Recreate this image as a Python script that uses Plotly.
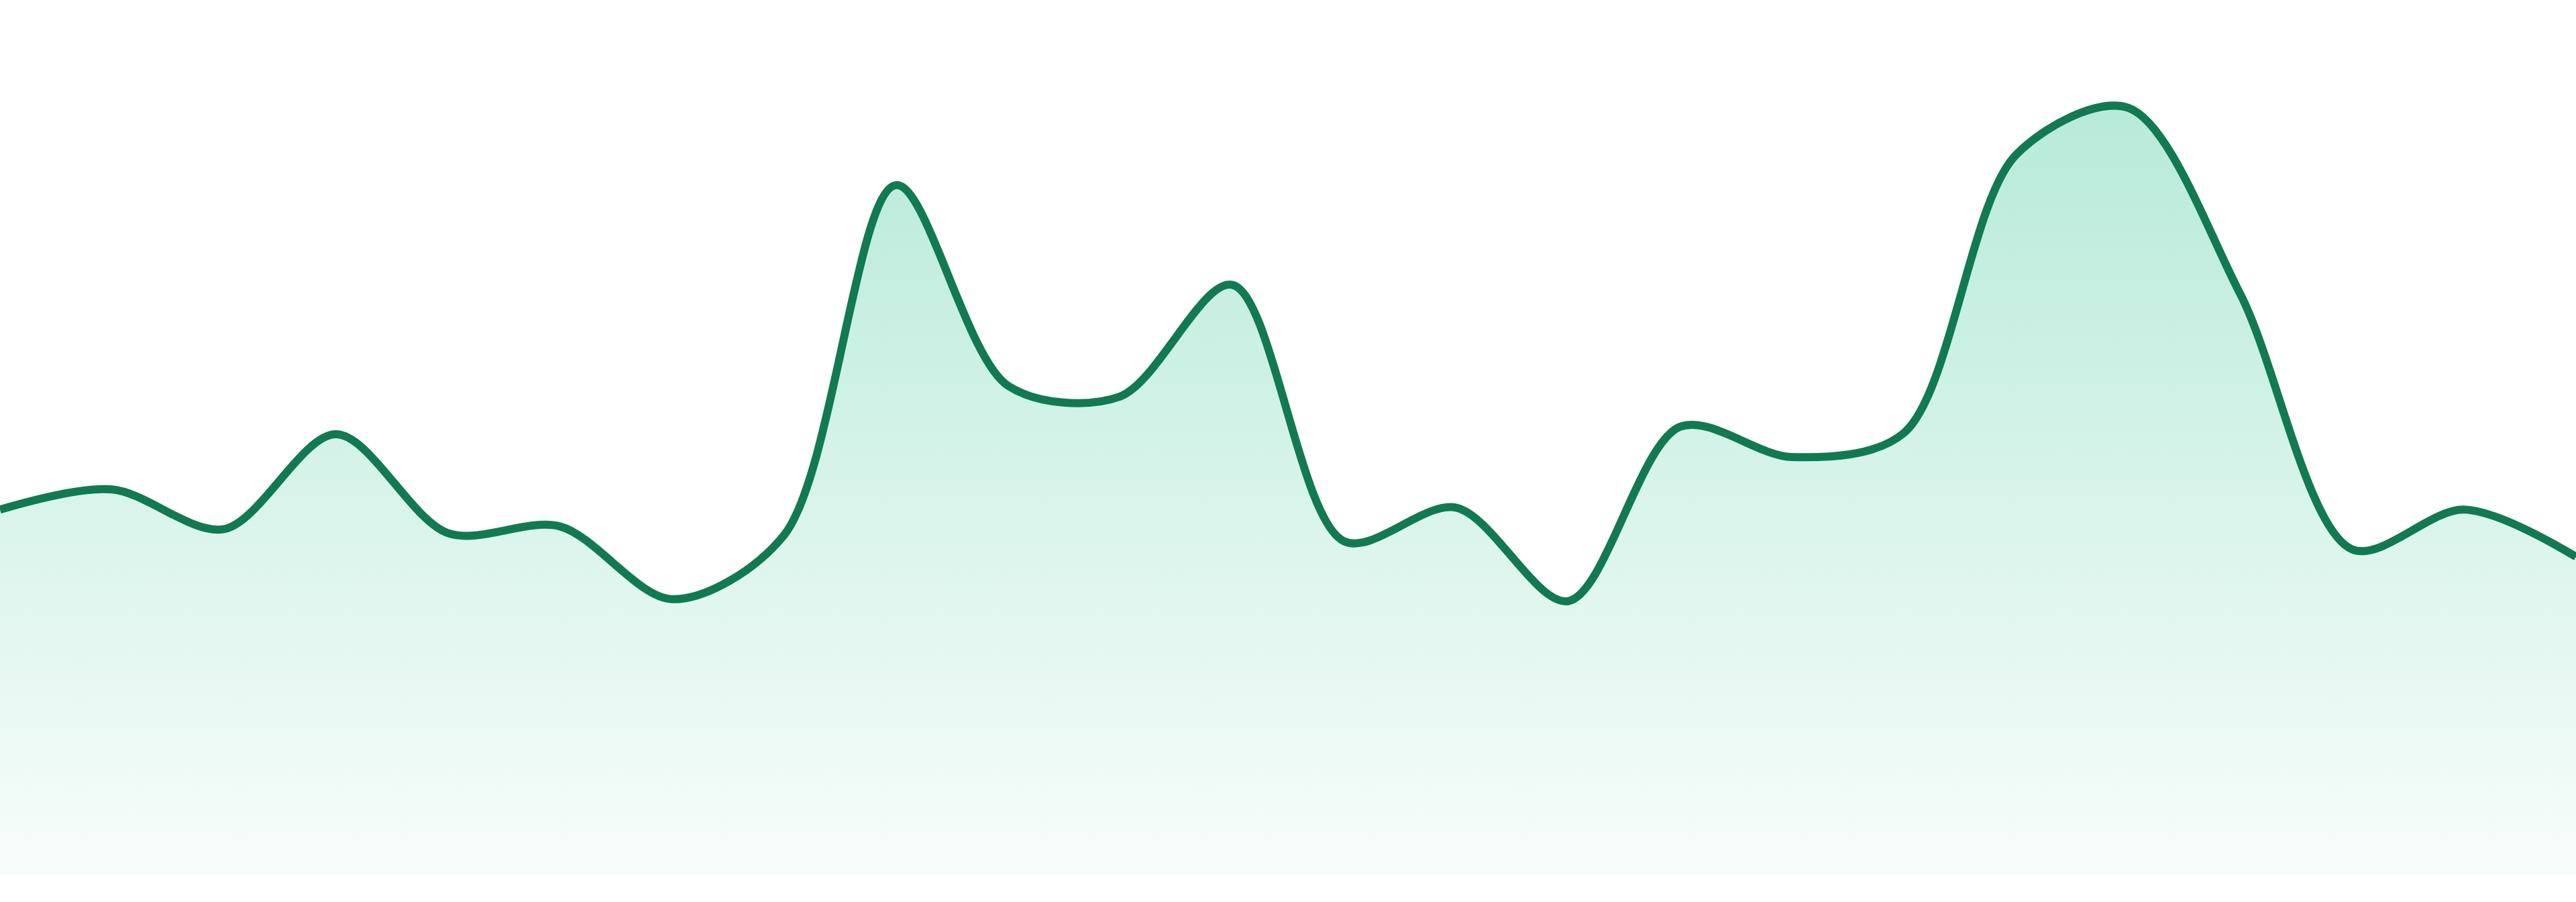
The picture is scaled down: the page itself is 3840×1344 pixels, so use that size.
"""
Sparkline-style area chart: one green spline with a fading vertical gradient
fill, no axes, no text. Written to out.html.
"""

import plotly.graph_objects as go

# ------------------------------------------------------------------
# Data
# ------------------------------------------------------------------
periods = list(range(24))
values = [
    54.3, 57.3, 51.4, 65.5, 50.8, 51.8, 41.0, 50.5,
    102.5, 72.7, 71.1, 87.7, 49.6, 54.6, 40.7, 66.6,
    62.1, 65.7, 107.0, 114.0, 86.4, 48.4, 54.3, 47.3,
]
y_range = [0, 130]

LINE_COLOR = "#117a52"
FILL_TOP = "rgba(16,185,129,0.30)"
FILL_BOTTOM = "rgba(16,185,129,0.03)"

fig = go.Figure(
    go.Scatter(
        x=periods,
        y=values,
        mode="lines",
        line=dict(color=LINE_COLOR, width=12, shape="spline", smoothing=0.9),
        fill="tozeroy",
        fillgradient=dict(
            type="vertical",
            start=0,
            stop=max(values),
            colorscale=[[0, FILL_BOTTOM], [1, FILL_TOP]],
        ),
        hoverinfo="skip",
    )
)

fig.update_layout(
    width=3840,
    height=1344,
    margin=dict(l=0, r=0, t=0, b=40),
    paper_bgcolor="white",
    plot_bgcolor="white",
    showlegend=False,
)
fig.update_xaxes(visible=False, range=[periods[0], periods[-1]])
fig.update_yaxes(visible=False, range=y_range)

fig.write_html(
    "out.html",
    config={"displayModeBar": False},
    post_script="document.body.style.margin='0';",
)
